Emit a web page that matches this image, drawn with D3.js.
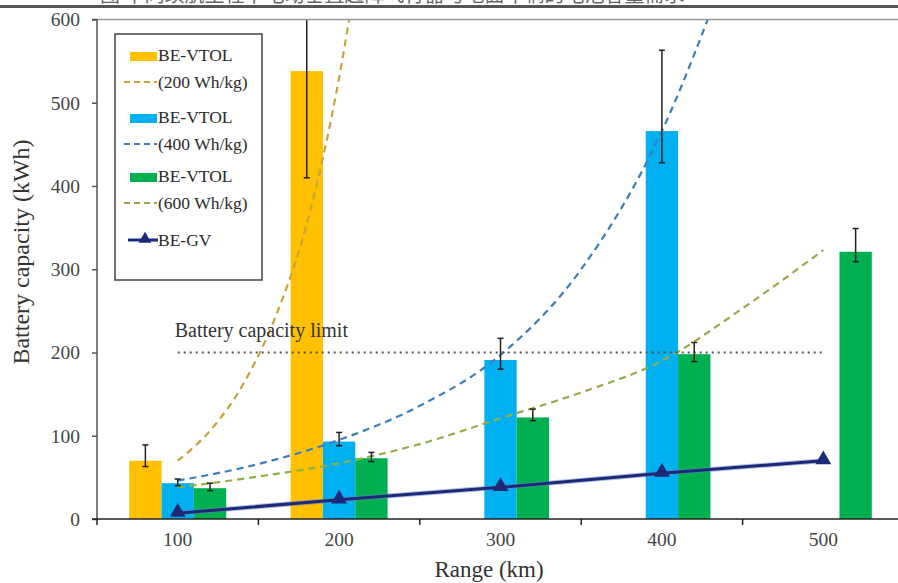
<!DOCTYPE html>
<html><head><meta charset="utf-8">
<script src="https://cdn.jsdelivr.net/npm/d3@7"></script>
<style>
html,body{margin:0;padding:0;background:#fff;}
svg{display:block;}
text{font-family:"Liberation Serif","Times New Roman",serif;}
</style></head>
<body>
<svg id="chart" width="898" height="583"></svg>
<script>
// ---- data ----
const categories = ["100","200","300","400","500"];
const yTicks = [0,100,200,300,400,500,600];
// BE-VTOL bars (kWh) with error bar low/high
const vtol200 = [70, 538, null, null, null];
const vtol200Lo = [63, 410, null, null, null];
const vtol200Hi = [89, 650, null, null, null];
const vtol400 = [43, 93, 191, 466, null];
const vtol400Lo = [40, 88, 180, 428, null];
const vtol400Hi = [48, 104, 217, 563, null];
const vtol600 = [37, 73, 122, 198, 321];
const vtol600Lo = [34, 69, 118, 189, 309];
const vtol600Hi = [43, 80, 132, 212, 349];
// BE-GV line
const beGV = [7, 23, 38, 55, 70];
// dashed trend curves (range km, kWh)
const curve200Km = [100, 120, 140, 160, 180, 200, 210];
const curve200Val = [70, 106, 160, 240, 355, 530, 645];
const curve400Km = [100, 150, 200, 250, 300, 350, 400, 440];
const curve400Val = [46, 66, 95, 136, 197, 300, 466, 660];
const curve600Km = [100, 150, 200, 250, 300, 350, 400, 450, 500];
const curve600Val = [38, 51, 67, 90, 121, 152, 190, 253, 323];
const limitKm = [100, 500];
const limitVal = 200;
const legendLabels = [["BE-VTOL","(200 Wh/kg)"],["BE-VTOL","(400 Wh/kg)"],["BE-VTOL","(600 Wh/kg)"],["BE-GV"]];

// ---- styles ----
const barColors = ["#FFC000","#00B0F0","#00B050"];
const curveColors = ["#C9A43A","#3D7EBF","#8FAE4A"];
const gvColor = "#1B2A78";

const svg = d3.select("#chart");
const plot = {left:97, right:904, top:19.5, bottom:519};

const x = d3.scaleBand().domain(categories).range([plot.left, plot.right]).paddingInner(0).paddingOuter(0);
const xKm = d3.scaleLinear().domain([50, 550]).range([plot.left, plot.right]);
const y = d3.scaleLinear().domain([0, 600]).range([plot.bottom, plot.top]);
const sub = d3.scaleBand().domain([0,1,2]).range([-48.5, 48.5]);
const cx = c => x(c) + x.bandwidth()/2;

// caption strip (cut off at top, as in the source image)
svg.append("text").attr("x", 100).attr("y", 2).attr("font-size", 20).attr("fill", "#666")
  .style("font-family", "'Noto Sans CJK SC',sans-serif")
  .text("图 不同续航里程下电动垂直起降飞行器与地面车辆的电池容量需求");
svg.append("rect").attr("x", 0).attr("y", 5).attr("width", 898).attr("height", 3).attr("fill", "#555");

svg.append("defs").append("clipPath").attr("id","clip").append("rect")
  .attr("x", plot.left).attr("y", plot.top).attr("width", 898-plot.left).attr("height", plot.bottom-plot.top);

const g = svg.append("g").attr("clip-path","url(#clip)");

// bars
const series = [[vtol200,vtol200Lo,vtol200Hi],[vtol400,vtol400Lo,vtol400Hi],[vtol600,vtol600Lo,vtol600Hi]];
series.forEach((s, si) => {
  categories.forEach((c, i) => {
    if (s[0][i] == null) return;
    g.append("rect")
      .attr("x", cx(c) + sub(si)).attr("width", sub.bandwidth())
      .attr("y", y(s[0][i])).attr("height", y(0) - y(s[0][i]))
      .attr("fill", barColors[si]);
  });
});

// dashed curves
const line = d3.line().x(d => xKm(d[0])).y(d => y(d[1])).curve(d3.curveMonotoneX);
[[curve200Km,curve200Val],[curve400Km,curve400Val],[curve600Km,curve600Val]].forEach((cv, ci) => {
  g.append("path").datum(cv[0].map((k,i)=>[k, cv[1][i]]))
    .attr("d", line).attr("fill","none").attr("stroke", curveColors[ci])
    .attr("stroke-width", 2.2).attr("stroke-dasharray","7,5");
});

// battery limit
g.append("line").attr("x1", xKm(limitKm[0])).attr("x2", xKm(limitKm[1]))
  .attr("y1", y(limitVal)).attr("y2", y(limitVal))
  .attr("stroke","#555").attr("stroke-width",2).attr("stroke-dasharray","2,4");
svg.append("text").attr("x", xKm(limitKm[0]) - 3).attr("y", y(limitVal) - 16)
  .attr("font-size", 20).attr("fill","#333").text("Battery capacity limit");

// error bars
series.forEach((s, si) => {
  categories.forEach((c, i) => {
    if (s[0][i] == null) return;
    const ex = cx(c) + sub(si) + sub.bandwidth()/2;
    g.append("line").attr("x1", ex).attr("x2", ex).attr("y1", y(s[1][i])).attr("y2", y(s[2][i]))
      .attr("stroke","#222").attr("stroke-width",1.5);
    [s[1][i], s[2][i]].forEach(v => {
      g.append("line").attr("x1", ex-3).attr("x2", ex+3).attr("y1", y(v)).attr("y2", y(v))
        .attr("stroke","#222").attr("stroke-width",1.5);
    });
  });
});

// BE-GV line
const gvLine = d3.line().x((d,i)=>cx(categories[i])).y(d=>y(d));
g.append("path").datum(beGV).attr("d", gvLine).attr("fill","none")
  .attr("stroke","#6A7FC0").attr("stroke-width",5).attr("opacity",0.5);
g.append("path").datum(beGV).attr("d", gvLine).attr("fill","none")
  .attr("stroke", gvColor).attr("stroke-width",3);
const tri = d3.symbol().type(d3.symbolTriangle).size(110);
beGV.forEach((v,i) => {
  g.append("path").attr("d", tri).attr("transform", `translate(${cx(categories[i])},${y(v)-1})`)
    .attr("fill", gvColor);
});

// axes
svg.append("line").attr("x1", plot.left).attr("x2", 898).attr("y1", plot.top).attr("y2", plot.top)
  .attr("stroke","#999").attr("stroke-width",1.5);

const yAxis = svg.append("g").attr("transform", `translate(${plot.left},0)`)
  .call(d3.axisLeft(y).tickValues(yTicks).tickSize(5).tickPadding(12).tickFormat(d3.format("d")));
yAxis.select(".domain").attr("stroke","#555").attr("stroke-width",1.5).attr("d", `M-5,${plot.top}H0V${plot.bottom}`);
yAxis.selectAll(".tick line").attr("stroke","#555").attr("stroke-width",1.5);
yAxis.selectAll(".tick text").attr("font-size",19.5).attr("fill","#444")
  .style("font-family","'Liberation Serif','Times New Roman',serif");

const xAxis = svg.append("g").attr("transform", `translate(0,${plot.bottom})`)
  .call(d3.axisBottom(x).tickSize(0).tickPadding(13));
xAxis.select(".domain").attr("stroke","#222").attr("stroke-width",1.5).attr("d", `M${plot.left-5},0H898`);
xAxis.selectAll(".tick text").attr("font-size",19.5).attr("fill","#444")
  .style("font-family","'Liberation Serif','Times New Roman',serif");
// boundary ticks
categories.forEach(c => {
  svg.append("line").attr("x1", x(c)).attr("x2", x(c)).attr("y1", plot.bottom).attr("y2", plot.bottom+6)
    .attr("stroke","#222").attr("stroke-width",1.5);
});

// axis titles
svg.append("text").attr("x", 489).attr("y", 577).attr("text-anchor","middle")
  .attr("font-size", 23).attr("fill","#333").text("Range (km)");
svg.append("text").attr("transform", `translate(29,252) rotate(-90)`)
  .attr("text-anchor","middle").attr("font-size", 24).attr("fill","#333").text("Battery capacity (kWh)");

// legend
const lg = svg.append("g");
lg.append("rect").attr("x",115).attr("y",34).attr("width",147).attr("height",246)
  .attr("fill","#fff").attr("stroke","#444").attr("stroke-width",1.5);
const rowY = [56, 118, 177];
rowY.forEach((ry, i) => {
  lg.append("rect").attr("x",130).attr("y",ry-4).attr("width",27).attr("height",9).attr("fill",barColors[i]);
  lg.append("text").attr("x",158).attr("y",ry+5).attr("font-size",17.5).attr("fill","#2a2a2a").text(legendLabels[i][0]);
  lg.append("line").attr("x1",124).attr("x2",157).attr("y1",ry+26).attr("y2",ry+26)
    .attr("stroke",curveColors[i]).attr("stroke-width",2).attr("stroke-dasharray","6,4");
  lg.append("text").attr("x",158).attr("y",ry+32).attr("font-size",17.5).attr("fill","#2a2a2a").text(legendLabels[i][1]);
});
lg.append("line").attr("x1",128).attr("x2",158).attr("y1",240).attr("y2",240).attr("stroke",gvColor).attr("stroke-width",3);
lg.append("path").attr("d", d3.symbol().type(d3.symbolTriangle).size(70)).attr("transform","translate(145,239)").attr("fill",gvColor);
lg.append("text").attr("x",158).attr("y",246).attr("font-size",17.5).attr("fill","#2a2a2a").text(legendLabels[3][0]);
</script>
</body></html>
